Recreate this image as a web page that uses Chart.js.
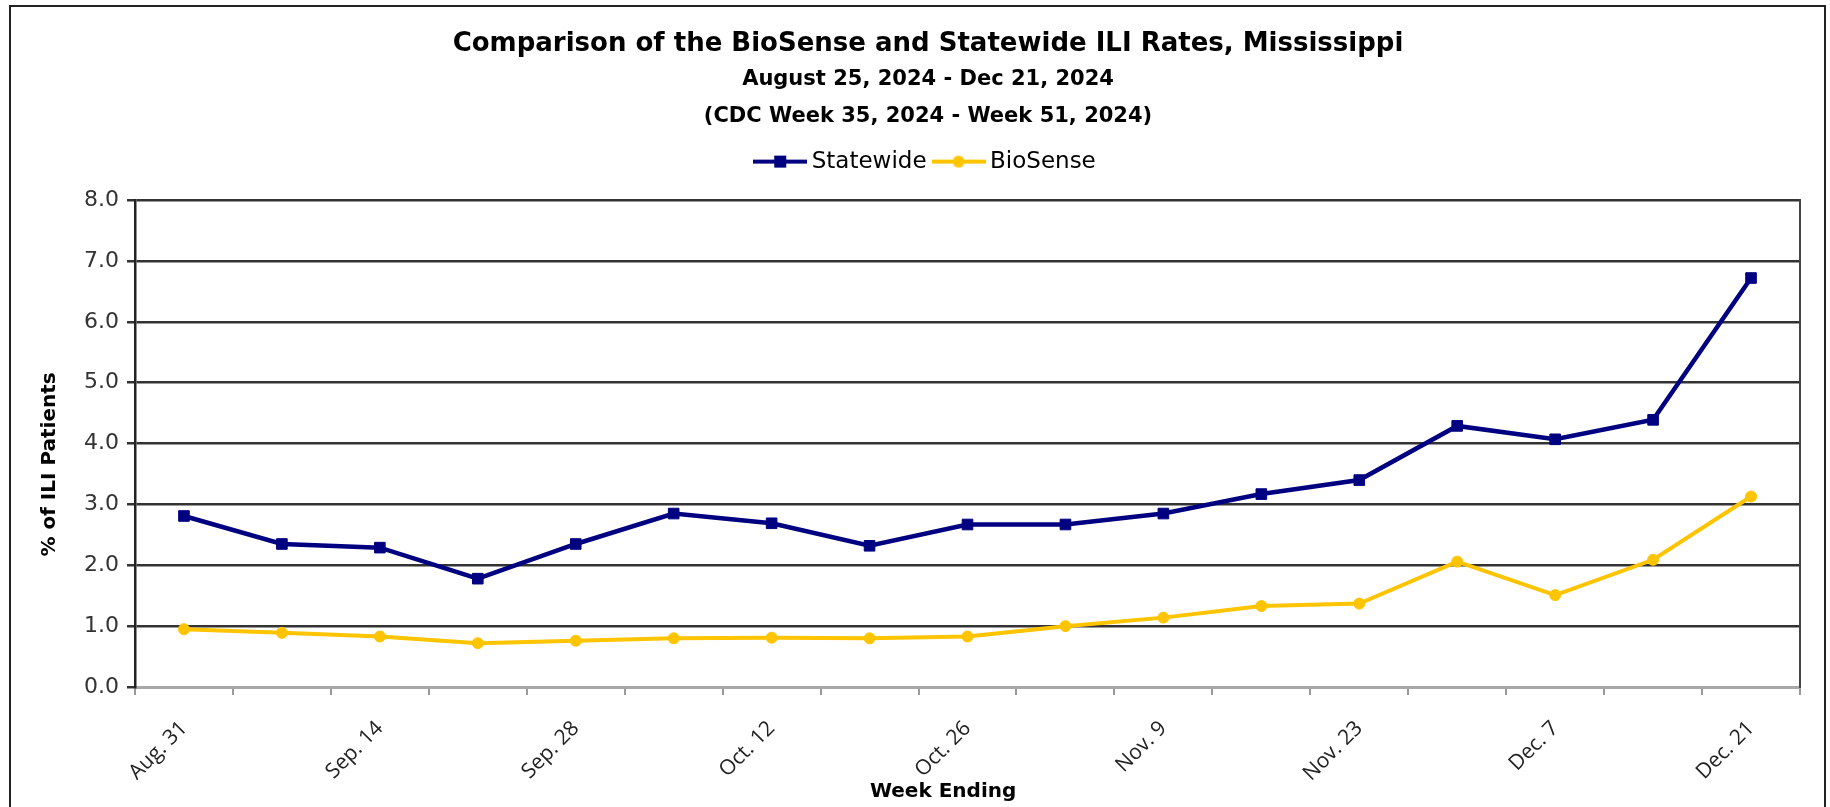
<!DOCTYPE html>
<html>
<head>
<meta charset="utf-8">
<script src="https://cdn.jsdelivr.net/npm/chart.js@4"></script>
<style>
  html, body { margin: 0; padding: 0; background: #fff; overflow: hidden; }
  #frame { position: absolute; left: 9px; top: 5px; width: 1813px; height: 900px; border: 2px solid #222; }
  #wrap { position: absolute; left: 0; top: 0; width: 1830px; height: 807px; }
</style>
</head>
<body>
<div id="frame"></div>
<div id="wrap"><canvas id="ili"></canvas></div>
<script>
// week ending dates, CDC week 35 .. 51 (2024)
const weekLabels = ['Aug. 31', 'Sep. 7', 'Sep. 14', 'Sep. 21', 'Sep. 28', 'Oct. 5', 'Oct. 12', 'Oct. 19',
                    'Oct. 26', 'Nov. 2', 'Nov. 9', 'Nov. 16', 'Nov. 23', 'Nov. 30', 'Dec. 7', 'Dec. 14', 'Dec. 21'];
const statewide  = [2.81, 2.35, 2.29, 1.78, 2.35, 2.85, 2.69, 2.32, 2.67, 2.67, 2.85, 3.17, 3.40, 4.29, 4.07, 4.39, 6.72];
const biosense   = [0.95, 0.89, 0.83, 0.72, 0.76, 0.80, 0.81, 0.80, 0.83, 1.00, 1.14, 1.33, 1.37, 2.06, 1.51, 2.09, 3.13];
const yTicks     = [0, 1, 2, 3, 4, 5, 6, 7, 8];

const NAVY = '#000080', GOLD = '#FFC400';
const SANS = "'DejaVu Sans', Verdana, sans-serif";

Chart.defaults.font.family = SANS;

// legend swatch: short line with the series marker in the middle
function swatch(color, square) {
  const c = document.createElement('canvas');
  c.width = 54; c.height = 20;
  const g = c.getContext('2d');
  g.strokeStyle = color; g.lineWidth = 4;
  g.beginPath(); g.moveTo(0, 10); g.lineTo(54, 10); g.stroke();
  g.fillStyle = color;
  if (square) g.fillRect(21, 4, 12, 12);
  else { g.beginPath(); g.arc(27, 10, 6, 0, Math.PI * 2); g.fill(); }
  return c;
}
const swatches = [swatch(NAVY, true), swatch(GOLD, false)];

// a bit of air between the legend and the plot
const legendGap = {
  id: 'legendGap',
  beforeInit(chart) {
    const fit = chart.legend.fit;
    chart.legend.fit = function () { fit.call(this); this.height += 17; };
  }
};

new Chart(document.getElementById('ili'), {
  type: 'line',
  data: {
    labels: weekLabels,
    datasets: [
      { label: 'Statewide', data: statewide, borderColor: NAVY, backgroundColor: NAVY,
        borderWidth: 4.5, pointStyle: 'rect', pointRadius: 7.5, pointBorderWidth: 1, tension: 0 },
      { label: 'BioSense', data: biosense, borderColor: GOLD, backgroundColor: GOLD,
        borderWidth: 4, pointStyle: 'circle', pointRadius: 5.5, pointBorderWidth: 1, tension: 0 }
    ]
  },
  plugins: [legendGap],
  options: {
    responsive: true,
    maintainAspectRatio: false,
    animation: false,
    layout: { padding: { left: 40, right: 14, top: 0, bottom: 0 } },
    plugins: {
      title: {
        display: true,
        text: 'Comparison of the BioSense and Statewide ILI Rates, Mississippi',
        color: '#000',
        font: { size: 26, weight: 'bold', lineHeight: 1.2 },
        padding: { top: 29, bottom: 0 }
      },
      subtitle: {
        display: true,
        text: ['August 25, 2024 - Dec 21, 2024', '(CDC Week 35, 2024 - Week 51, 2024)'],
        color: '#000',
        font: { size: 21, weight: 'bold', lineHeight: 1.76 },
        padding: { top: 1, bottom: 3 }
      },
      legend: {
        position: 'top',
        labels: {
          usePointStyle: true,
          pointStyleWidth: 40,
          padding: 12,
          color: '#222',
          font: { size: 23 },
          generateLabels: chart => chart.data.datasets.map((ds, i) => ({
            text: ds.label, pointStyle: swatches[i], fillStyle: ds.borderColor,
            strokeStyle: ds.borderColor, lineWidth: 0, datasetIndex: i, hidden: false
          }))
        }
      },
      tooltip: { enabled: false }
    },
    scales: {
      x: {
        offset: true,
        afterFit: s => { s.height = 120; },
        grid: { offset: true, drawOnChartArea: false, drawTicks: true, tickLength: 8, color: '#999', lineWidth: 2 },
        border: { display: true, color: '#a8a8a8', width: 3 },
        ticks: {
          autoSkip: false, minRotation: 45, maxRotation: 45, padding: 21,
          color: '#222', font: { family: "'Open Sans', sans-serif", size: 21 },
          callback: (v, i) => (i % 2 ? '' : weekLabels[i])
        },
        title: { display: true, text: 'Week Ending       ', color: '#000',
                 font: { size: 20, weight: 'bold', lineHeight: 1.2 }, padding: { top: 0, bottom: 3 } }
      },
      y: {
        min: yTicks[0], max: yTicks[yTicks.length - 1],
        afterFit: s => { s.width = 95; },
        afterBuildTicks: s => { s.ticks = yTicks.map(v => ({ value: v })); },
        grid: {
          color: c => (c.tick && c.tick.value === 0 ? '#a8a8a8' : '#333'),
          tickColor: '#333', lineWidth: 2.5, tickLength: 8
        },
        border: { display: true, color: '#222', width: 2.5 },
        ticks: { color: '#333', font: { size: 22 }, padding: 8, callback: v => v.toFixed(1) },
        title: { display: true, text: '% of ILI Patients      ', color: '#000',
                 font: { size: 20, weight: 'bold', lineHeight: 1 },
                 padding: { top: 0, bottom: 0 } }
      },
      // empty right axis: gives the plot its right border
      y2: {
        position: 'right', min: 0, max: 8,
        afterFit: s => { s.width = 16; },
        grid: { drawOnChartArea: false, drawTicks: false },
        border: { display: true, color: '#444', width: 2 },
        ticks: { display: false }
      }
    }
  }
});
</script>
</body>
</html>
